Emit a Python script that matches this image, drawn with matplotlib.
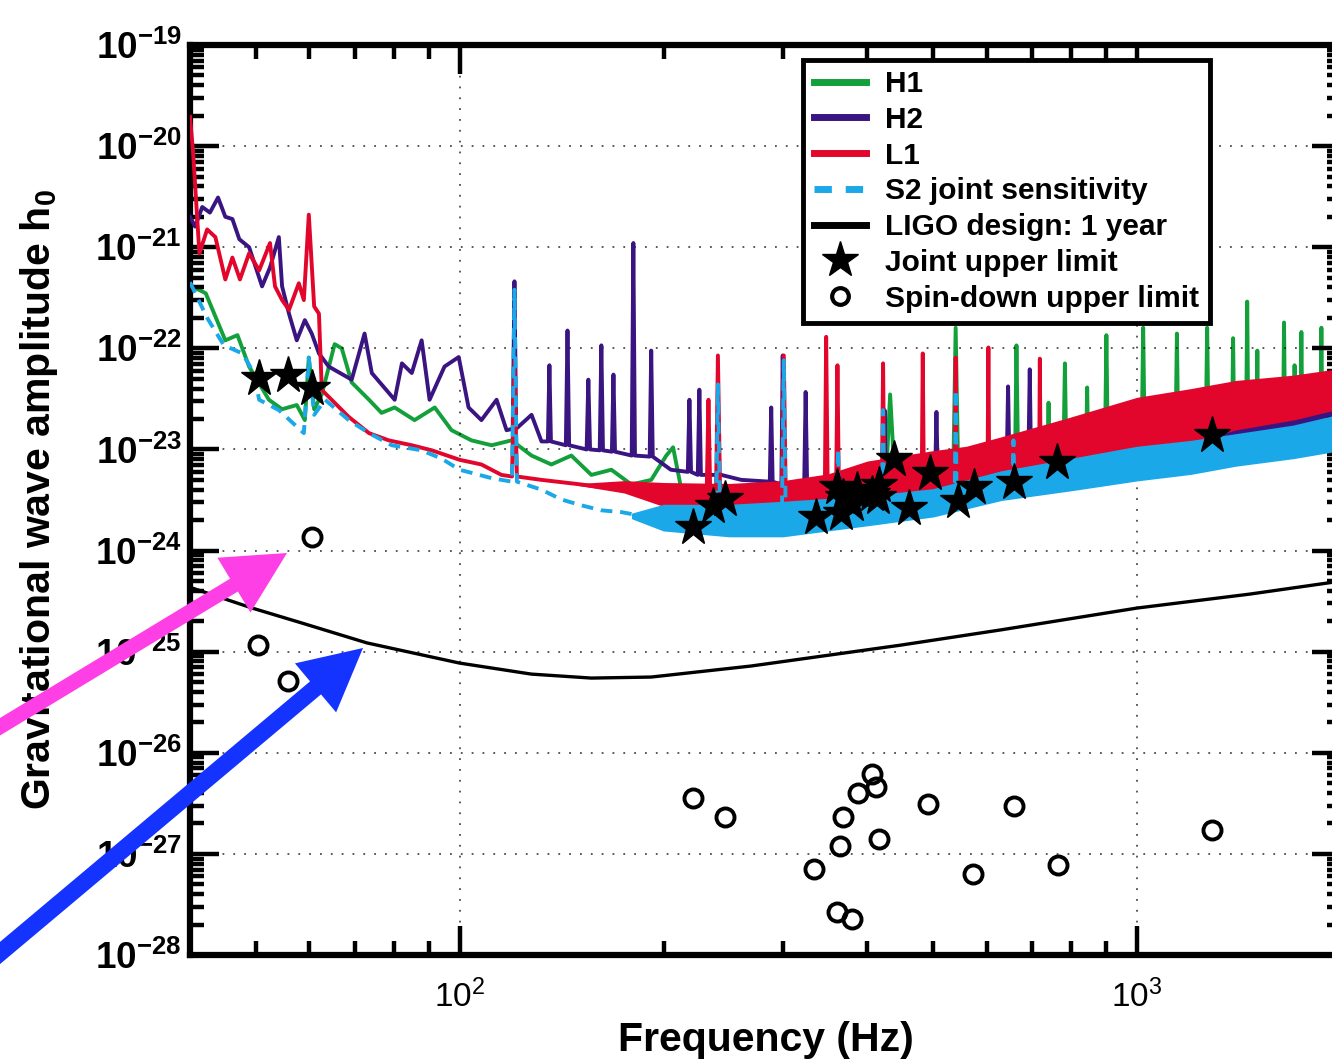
import numpy as np
import matplotlib
matplotlib.use("Agg")
import matplotlib.pyplot as plt
from matplotlib.lines import Line2D
from matplotlib.patches import FancyArrow
from matplotlib.transforms import IdentityTransform
from matplotlib.ticker import LogLocator, NullFormatter, FixedLocator, FixedFormatter

plt.rcParams['font.family'] = ['Liberation Sans', 'DejaVu Sans']
plt.rcParams['font.weight'] = 'bold'
plt.rcParams['mathtext.fontset'] = 'custom'
plt.rcParams['mathtext.rm'] = 'Liberation Sans:regular'
plt.rcParams['mathtext.bf'] = 'Liberation Sans:bold'
plt.rcParams['mathtext.default'] = 'bf'

# ---------------- data ----------------
# H1 (green)
h1_freq = [40.3, 42.2, 45.1, 47.0, 48.9, 52.3, 54.7, 57.5, 59.1, 59.9, 61.0, 62.6, 65.4, 67.0, 69.3,
           73.5, 76.7, 80.2, 85.8, 91.9, 97.3, 104.1, 111.5, 119.3, 127.7, 136.6, 146.2, 156.5,
           167.5, 179.3, 191.8, 201.9, 206.6, 212.5, 227.4, 260.5, 319.4, 425, 432, 440, 535,
           539.8, 545, 660, 663.7, 668, 736, 740.2, 744, 778, 782.5, 787, 840, 844, 848, 896,
           901, 906, 1015, 1021, 1027, 1139, 1145, 1151, 1262, 1269, 1276, 1380, 1386, 1392,
           1448, 1454, 1460, 1500, 1505, 1510, 1642, 1648, 1654, 1702, 1708, 1714, 1742, 1748,
           1754, 1865, 1871, 1877, 2000]
h1_h = [4.1e-22, 3.5e-22, 1.2e-22, 1.35e-22, 6.6e-23, 3.1e-23, 2.5e-23, 2.75e-23, 1.95e-23, 8.1e-23,
        2.5e-23, 3.5e-23, 1.1e-22, 1.0e-22, 4.6e-23, 3.1e-23, 2.3e-23, 2.6e-23, 1.95e-23, 2.6e-23,
        1.55e-23, 1.23e-23, 1.1e-23, 1.23e-23, 8.7e-24, 7.1e-24, 8.7e-24, 5.6e-24, 6.3e-24, 4.5e-24,
        5.0e-24, 8.7e-24, 1.05e-23, 4.0e-24, 3.5e-24, 3.2e-24, 3.2e-24, 3.6e-24, 3.5e-23, 3.8e-24,
        4.2e-24, 1.6e-22, 4.2e-24, 5.0e-24, 1.07e-22, 5.0e-24, 5.6e-24, 2.9e-23, 5.6e-24, 6.0e-24,
        7.1e-23, 6.0e-24, 6.5e-24, 4.1e-23, 6.5e-24, 7.0e-24, 1.35e-22, 7.0e-24, 8.0e-24, 1.6e-22,
        8.0e-24, 9.0e-24, 1.4e-22, 9.0e-24, 1.0e-23, 1.6e-22, 1.0e-23, 1.1e-23, 1.26e-22, 1.1e-23,
        1.2e-23, 2.9e-22, 1.2e-23, 1.25e-23, 9.5e-23, 1.25e-23, 1.4e-23, 1.8e-22, 1.4e-23, 1.45e-23,
        6.8e-23, 1.45e-23, 1.5e-23, 1.45e-22, 1.5e-23, 1.6e-23, 1.6e-22, 1.6e-23, 1.7e-23]

# H2 (purple)
h2_freq = [40.0, 40.7, 41.7, 42.8, 44.0, 45.1, 46.2, 47.3, 48.9, 51.1, 52.5, 54.1, 54.7, 56.0, 57.5,
           59.1, 60.5, 62.0, 64.1, 69.3, 72.4, 74.2, 80.2, 82.2, 85.0, 87.9, 90.3, 95.0, 99.7,
           103.1, 107.7, 113.4, 117.3, 119.8, 120.5, 121.2, 127.7, 132.1, 135.0, 135.7, 136.4,
           143.5, 144.3, 145.1, 154.0, 154.9, 155.8, 161.0, 161.9, 162.8, 167.8, 168.7, 169.6,
           179.5, 180.5, 181.5, 190.8, 191.8, 192.8, 205, 217.2, 218.4, 219.6, 224.7, 225.9,
           227.1, 243.4, 260.5, 287, 288.4, 289.8, 298.5, 299.9, 301.3, 322.6, 324.2, 325.8,
           365.8, 422, 423.9, 425.8, 503.5, 505.7, 507.9, 642, 645.1, 648, 691, 694.4, 697.5,
           880, 1234, 2000]
h2_h = [2.0e-21, 1.6e-21, 2.5e-21, 2.2e-21, 3.1e-21, 2.0e-21, 1.9e-21, 1.2e-21, 1.0e-21, 4.1e-22,
        6.3e-22, 1.26e-21, 4.1e-22, 2.2e-22, 1.2e-22, 1.9e-22, 1.4e-22, 8.9e-23, 6.6e-23, 4.9e-23,
        1.4e-22, 5.7e-23, 3.1e-23, 7.1e-23, 5.7e-23, 1.2e-22, 3.1e-23, 6.6e-23, 8.2e-23,
        2.6e-23, 1.95e-23, 3.1e-23, 1.55e-23, 1.6e-23, 4.6e-22, 1.6e-23, 2.2e-23, 1.2e-23,
        1.2e-23, 6.8e-23, 1.2e-23, 1.1e-23, 1.5e-22, 1.1e-23, 1.0e-23, 4.9e-23, 1.0e-23, 9.8e-24,
        1.07e-22, 9.8e-24, 9.5e-24, 5.5e-23, 9.5e-24, 8.7e-24, 1.1e-21, 8.7e-24, 8.5e-24, 9.5e-23,
        8.5e-24, 6.3e-24, 6.0e-24, 3.1e-23, 6.0e-24, 5.6e-24, 3.9e-23, 5.6e-24, 5.6e-24, 5.0e-24,
        4.8e-24, 2.6e-23, 4.8e-24, 4.5e-24, 8.5e-23, 4.5e-24, 4.6e-24, 3.7e-23, 4.6e-24, 5.0e-24,
        5.2e-24, 2.45e-23, 5.2e-24, 5.8e-24, 2.35e-23, 5.8e-24, 6.8e-24, 4.2e-23, 6.8e-24,
        7.2e-24, 6.2e-23, 7.2e-24, 9.0e-24, 1.2e-23, 1.9e-23]
# H2 noise band, high frequency
h2_band_freq = [700, 1000, 1400, 2000]
h2_band_lo = [5.0e-24, 7.0e-24, 1.0e-23, 1.5e-23]
h2_band_hi = [9.0e-24, 1.3e-23, 1.8e-23, 2.9e-23]

# L1 (red)
l1_freq = [40.0, 40.4, 41.3, 42.4, 43.6, 45.1, 46.2, 47.4, 48.9, 50.6, 52.5, 53.4, 54.7, 56.0, 57.9,
           58.9, 59.9, 61.0, 62.0, 62.6, 63.3, 68.6, 73.5, 78.6, 85.0, 91.0, 100, 107.7, 115.3,
           119.5, 120.5, 121.5, 132.1, 151.3, 173.3, 198.5, 227.4, 231.5, 233, 234.5, 239, 240.6,
           242.5, 278.8, 299, 301, 303, 308, 346, 347.6, 349.5, 359.5, 361.2, 363, 420, 421.8,
           423.5, 481, 482.7, 484.5, 538, 539.8, 541.5, 601.5, 603.3, 605, 717, 718.6, 720.5,
           880, 1045, 1234, 1466, 1731, 2000]
l1_h = [1.95e-20, 9.1e-21, 8.7e-22, 1.5e-21, 1.26e-21, 4.8e-22, 7.9e-22, 4.8e-22, 8.7e-22, 5.9e-22,
        1.1e-21, 4.1e-22, 3.0e-22, 2.4e-22, 4.4e-22, 3.0e-22, 2.1e-21, 2.6e-22, 2.2e-22, 3.9e-23,
        3.6e-23, 2.1e-23, 1.45e-23, 1.23e-23, 1.1e-23, 9.8e-24, 7.9e-24, 7.1e-24, 5.6e-24,
        5.4e-24, 7.6e-23, 5.4e-24, 5.0e-24, 4.5e-24, 4.0e-24, 3.6e-24, 3.2e-24, 3.2e-24, 3.1e-23,
        3.2e-24, 3.3e-24, 8.5e-23, 3.3e-24, 3.2e-24, 3.4e-24, 8.5e-23, 3.4e-24, 3.5e-24, 3.6e-24,
        1.3e-22, 3.6e-24, 3.7e-24, 6.8e-23, 3.7e-24, 4.2e-24, 7.1e-23, 4.2e-24, 4.6e-24, 8.9e-23,
        4.6e-24, 5.0e-24, 8.1e-23, 5.0e-24, 5.4e-24, 1.02e-22, 5.4e-24, 6.6e-24, 7.9e-23, 6.6e-24,
        1.0e-23, 1.6e-23, 2.2e-23, 2.9e-23, 3.5e-23, 4.2e-23]
l1_band_freq = [150, 175, 200, 250, 300, 350, 400, 450, 500, 560, 630, 790, 1000, 1200, 1400, 1700, 2000]
l1_band_hi = [4.5e-24, 4.8e-24, 4.6e-24, 4.5e-24, 4.8e-24, 5.6e-24, 7.5e-24, 8.5e-24, 9.5e-24,
              1.05e-23, 1.3e-23, 2.0e-23, 3.2e-23, 3.9e-23, 4.7e-23, 5.3e-23, 6.2e-23]
l1_band_lo = [4.5e-24, 3.8e-24, 2.8e-24, 2.2e-24, 2.2e-24, 2.4e-24, 2.6e-24, 3.0e-24, 3.3e-24,
              3.8e-24, 4.5e-24, 6.0e-24, 1.0e-23, 1.2e-23, 1.6e-23, 2.0e-23, 2.6e-23]

# S2 joint sensitivity (cyan)
s2_freq = [40.0, 42.4, 44.9, 47.8, 49.7, 50.6, 54.1, 58.9, 59.9, 61.0, 63.3, 68.6, 73.5, 79.4, 87.9,
           94.1, 100, 111.5, 119.5, 120.5, 121.5, 132.1, 141.3, 151.3, 161.9, 173.3, 185.5, 198.5,
           212.5, 227.4, 239, 240.6, 242.5, 278.8, 299, 301, 303, 341.8, 360, 362, 364, 391.5,
           420, 421.8, 423.5, 538, 539.8, 541.5, 629.8, 655, 657, 659, 880, 1234, 2000]
s2_h = [4.5e-22, 2.0e-22, 1.07e-22, 8.9e-23, 5.7e-23, 3.1e-23, 2.45e-23, 1.45e-23, 8.1e-23, 2.2e-23,
        3.1e-23, 1.95e-23, 1.45e-23, 1.1e-23, 9.8e-24, 8.1e-24, 6.3e-24, 5.2e-24, 4.8e-24, 3.8e-22,
        4.8e-24, 4.0e-24, 3.2e-24, 2.8e-24, 2.5e-24, 2.4e-24, 2.2e-24, 2.1e-24, 2.0e-24, 1.9e-24,
        1.9e-24, 4.4e-23, 1.9e-24, 1.9e-24, 2.0e-24, 7.6e-23, 2.0e-24, 2.2e-24, 2.3e-24, 1.0e-23,
        2.3e-24, 2.5e-24, 2.6e-24, 2.45e-23, 2.6e-24, 3.0e-24, 3.9e-23, 3.0e-24, 3.5e-24, 3.6e-24,
        1.23e-23, 3.6e-24, 5.0e-24, 6.8e-24, 1.23e-23]
s2_band_freq = [180, 200, 250, 300, 400, 500, 630, 800, 1000, 1200, 1400, 1700, 2000]
s2_band_hi = [2.3e-24, 2.8e-24, 2.8e-24, 3.0e-24, 3.4e-24, 4.0e-24, 6.0e-24, 8.0e-24, 1.05e-23,
              1.2e-23, 1.4e-23, 1.7e-23, 2.2e-23]
s2_band_lo = [2.1e-24, 1.6e-24, 1.4e-24, 1.4e-24, 1.8e-24, 2.2e-24, 3.2e-24, 4.0e-24, 5.0e-24,
              5.8e-24, 7.0e-24, 8.3e-24, 1.0e-23]

# LIGO design: 1 year
ligo_freq = [40.3, 49.4, 58.5, 73.0, 100, 127.6, 156.5, 191.8, 269.2, 447.7, 628.6, 1000, 1467, 2000]
ligo_h = [4.26e-25, 2.70e-25, 1.92e-25, 1.22e-25, 7.71e-26, 6.00e-26, 5.48e-26, 5.61e-26, 7.21e-26,
          1.16e-25, 1.64e-25, 2.70e-25, 3.71e-25, 4.99e-25]

# Joint upper limits (stars)
star_freq = [50.5, 55.8, 60.5, 221.4, 236.6, 246.7, 335.6, 361.2, 365.3, 368.1, 380.0, 386.6,
             406.2, 414.1, 415.9, 437.6, 460.5, 494.0, 543.2, 574.1, 657.5, 761.5, 1288]
star_h = [5.05e-23, 5.44e-23, 4.02e-23, 1.72e-24, 2.75e-24, 3.23e-24, 2.16e-24, 4.28e-24, 2.33e-24,
          3.4e-24, 2.9e-24, 3.97e-24, 3.6e-24, 3.38e-24, 4.4e-24, 8.04e-24, 2.66e-24, 5.80e-24,
          3.12e-24, 4.28e-24, 4.79e-24, 7.56e-24, 1.39e-23]

# Spin-down upper limits (circles)
spin_freq = [50.4, 55.8, 60.5, 221.4, 246.8, 333.7, 360.3, 364.4, 368.1, 380.0, 387.9, 406.2,
             412.3, 415.9, 492.2, 572.9, 657.5, 764.1, 1288]
spin_h = [1.16e-25, 5.15e-26, 1.37e-24, 3.59e-27, 2.33e-27, 7.13e-28, 2.66e-28, 1.20e-27, 2.33e-27,
          2.25e-28, 4.02e-27, 6.15e-27, 4.61e-27, 1.39e-27, 3.11e-27, 6.31e-28, 2.99e-27, 7.69e-28,
          1.72e-27]

x_ticks = [100, 1000]
x_tick_labels = [r'$\mathrm{10^{2}}$', r'$\mathrm{10^{3}}$']
y_ticks = [1e-28, 1e-27, 1e-26, 1e-25, 1e-24, 1e-23, 1e-22, 1e-21, 1e-20, 1e-19]

c_green = '#13A03A'
c_purple = '#3A1581'
c_red = '#E2062C'
c_cyan = '#1AA8E8'

# ---------------- figure ----------------
fig = plt.figure(figsize=(13.32, 10.60), dpi=100)
ax = fig.add_axes([190 / 1332, 105 / 1060, 1151 / 1332, 910 / 1060])
ax.set_xscale('log')
ax.set_yscale('log')

lw = 2.8
ax.plot(h1_freq, h1_h, color=c_green, lw=lw, zorder=2)
ax.fill_between(h2_band_freq, h2_band_lo, h2_band_hi, color=c_purple, lw=0, zorder=2.5)
ax.plot(h2_freq, h2_h, color=c_purple, lw=lw, zorder=2.6)
ax.fill_between(l1_band_freq, l1_band_lo, l1_band_hi, color=c_red, lw=1.5, ec=c_red, zorder=3)
ax.plot(l1_freq, l1_h, color=c_red, lw=lw, zorder=3.1)
ax.fill_between(s2_band_freq, s2_band_lo, s2_band_hi, color=c_cyan, lw=1.5, ec=c_cyan, zorder=4)
ax.plot(s2_freq, s2_h, color=c_cyan, lw=lw, dashes=(3, 2), zorder=4.1)
ax.plot(ligo_freq, ligo_h, color='black', lw=2.4, zorder=5)
ax.plot(star_freq, star_h, ls='none', marker='*', ms=28, color='black', zorder=6)
ax.plot(spin_freq, spin_h, ls='none', marker='o', ms=13, mfc='none', mec='black', mew=2.8, zorder=6)

ax.set_xlim(40, 2000)
ax.set_ylim(1e-28, 1e-19)

# ticks (MATLAB-like)
ax.xaxis.set_major_locator(FixedLocator(x_ticks))
ax.xaxis.set_major_formatter(FixedFormatter(x_tick_labels))
ax.yaxis.set_major_locator(FixedLocator(y_ticks))
ax.xaxis.set_minor_locator(LogLocator(base=10, subs=np.arange(2, 10), numticks=10))
ax.yaxis.set_minor_locator(LogLocator(base=10, subs=np.arange(2, 10), numticks=15))
ax.xaxis.set_minor_formatter(NullFormatter())
ax.yaxis.set_minor_formatter(NullFormatter())
ax.tick_params(which='both', direction='in', top=True, right=True, width=3.2)
ax.tick_params(which='major', length=21)
ax.tick_params(axis='x', which='major', pad=18, labelsize=24)
ax.tick_params(axis='y', which='major', pad=6, labelsize=26.5)
ax.tick_params(which='minor', length=10)
for s in ax.spines.values():
    s.set_linewidth(4.5)

ax.grid(True, which='major', color='black', ls=(0, (1, 5)), lw=1.3, alpha=0.7)
ax.grid(False, which='minor')
ax.set_axisbelow(False)

ax.set_xlabel('Frequency (Hz)', fontsize=29.5, fontweight='bold')
ax.xaxis.set_label_coords(0.5, -0.073)
ax.set_ylabel(r'Gravitational wave amplitude h$_0$', fontsize=29.5, fontweight='bold')
ax.yaxis.set_label_coords(-0.113, 0.5)

handles = [
    Line2D([], [], color=c_green, lw=5),
    Line2D([], [], color=c_purple, lw=5),
    Line2D([], [], color=c_red, lw=5),
    Line2D([], [], color=c_cyan, lw=5, dashes=(2.5, 2)),
    Line2D([], [], color='black', lw=5),
    Line2D([], [], ls='none', marker='*', ms=27, color='black'),
    Line2D([], [], ls='none', marker='o', ms=12, mfc='none', mec='black', mew=3),
]
labels = ['H1', 'H2', 'L1', 'S2 joint sensitivity', 'LIGO design: 1 year',
          'Joint upper limit', 'Spin-down upper limit']
leg = ax.legend(handles, labels, loc='upper right', bbox_to_anchor=(0.886, 0.984),
                prop={'size': 21.5, 'weight': 'bold'}, fancybox=False, framealpha=1,
                edgecolor='black', handlelength=1.75, handletextpad=0.65, labelspacing=0.26,
                borderpad=0.35, borderaxespad=0)
leg.get_frame().set_linewidth(3.5)
leg.set_zorder(10)

# arrows (figure pixels, origin bottom-left)
fig.add_artist(FancyArrow(-50, 303, 337, 204, width=15, head_width=64, head_length=62,
                          length_includes_head=True, color='#FF3FE6', lw=0,
                          transform=IdentityTransform(), zorder=20))
fig.add_artist(FancyArrow(-50, 65, 413, 347, width=17, head_width=64, head_length=62,
                          length_includes_head=True, color='#1533FF', lw=0,
                          transform=IdentityTransform(), zorder=20))

fig.savefig('out.png', dpi=100)
